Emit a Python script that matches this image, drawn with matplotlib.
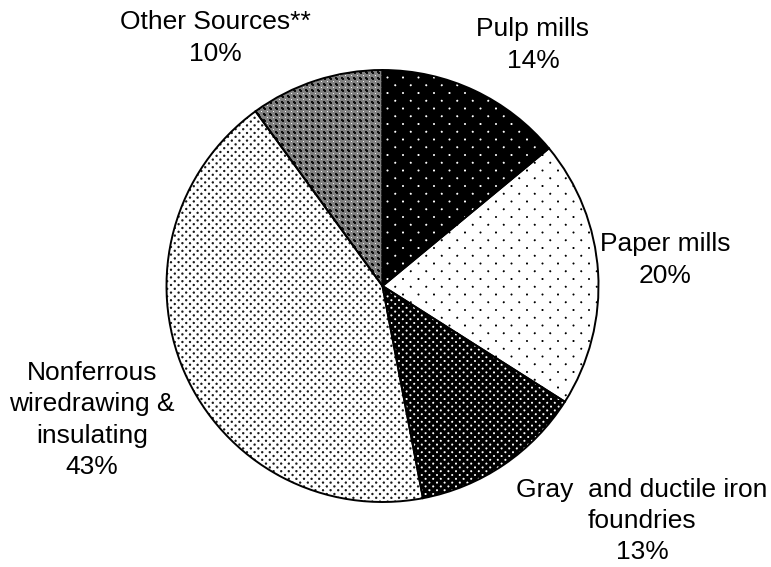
import numpy as np
import matplotlib
matplotlib.use("Agg")
import matplotlib.pyplot as plt

# ---- data ----
categories = ["Pulp mills", "Paper mills", "Gray  and ductile iron\nfoundries",
              "Nonferrous\nwiredrawing &\ninsulating", "Other Sources**"]
shares = [14, 20, 13, 43, 10]

W, H = 771, 567
fig = plt.figure(figsize=(W / 100, H / 100), dpi=100)
ax = fig.add_axes([0, 0, 1, 1])

cx, cy, R = 382.5, H - 286, 216

wedges, _ = ax.pie(shares, center=(cx, cy), radius=R, startangle=90,
                   counterclock=False,
                   wedgeprops=dict(facecolor='none', edgecolor='black',
                                   linewidth=1.4, zorder=3))

# ---- fill patterns (pixel grid) ----
yy, xx = np.mgrid[0:H, 0:W].astype(float)
xx += 0.5
yy += 0.5


def dots(px, py, rad, fg, bg):
    r = np.round(yy / py)
    off = (r % 2) * px / 2
    nx = np.round((xx - off) / px) * px + off
    d = np.hypot(xx - nx, yy - r * py)
    cov = np.clip(rad - d + 0.5, 0, 1)
    return bg + (fg - bg) * cov


def cross(p=6):
    mx = np.floor(xx) % p
    my = np.floor(yy) % p
    img = np.full((H, W), 0.5)
    black = ((mx == 0) & (my <= 1)) | ((my == 0) & (mx <= 1)) | \
            ((mx == 0) & (my == p - 1)) | ((my == 0) & (mx == p - 1)) | \
            ((mx == 1) & (my == 1)) | ((mx == p - 1) & (my == p - 1))
    img[black] = 0.05
    white = (mx == p // 2) & (my == p // 2)
    img[white] = 0.95
    return img


patterns = [
    dots(15.5, 7.75, 1.0, 1.0, 0.0),   # Pulp mills: black, sparse white dots
    dots(15.5, 7.75, 1.0, 0.0, 1.0),   # Paper mills: white, sparse black dots
    dots(7.6, 3.8, 1.0, 1.0, 0.0),     # Gray & ductile iron: black, dense white dots
    dots(7.6, 3.8, 1.15, 0.1, 1.0),    # Nonferrous: white, dense black dots
    cross(6),                          # Other sources: gray crosshatch
]

for w, pat in zip(wedges, patterns):
    im = ax.imshow(pat, cmap='gray', vmin=0, vmax=1, origin='upper',
                   extent=(0, W, 0, H), interpolation='nearest', zorder=1)
    im.set_clip_path(w)

# ---- labels ----
fs = 19
label_text = ["Pulp mills\n14%", "Paper mills\n20%",
              "Gray  and ductile iron\nfoundries\n13%",
              "Nonferrous\nwiredrawing &\ninsulating\n43%",
              "Other Sources**\n10%"]
label_pos = [(533, 45), (665, 260), (642, 521), (92, 420), (215, 38)]
for t, (x, y) in zip(label_text, label_pos):
    ax.text(x, H - y, t, ha='center', va='center', fontsize=fs,
            family='Liberation Sans', linespacing=1.38, zorder=4)

ax.set_xlim(0, W)
ax.set_ylim(0, H)
ax.set_aspect('equal')
ax.axis('off')

fig.savefig("out.png", dpi=100)
